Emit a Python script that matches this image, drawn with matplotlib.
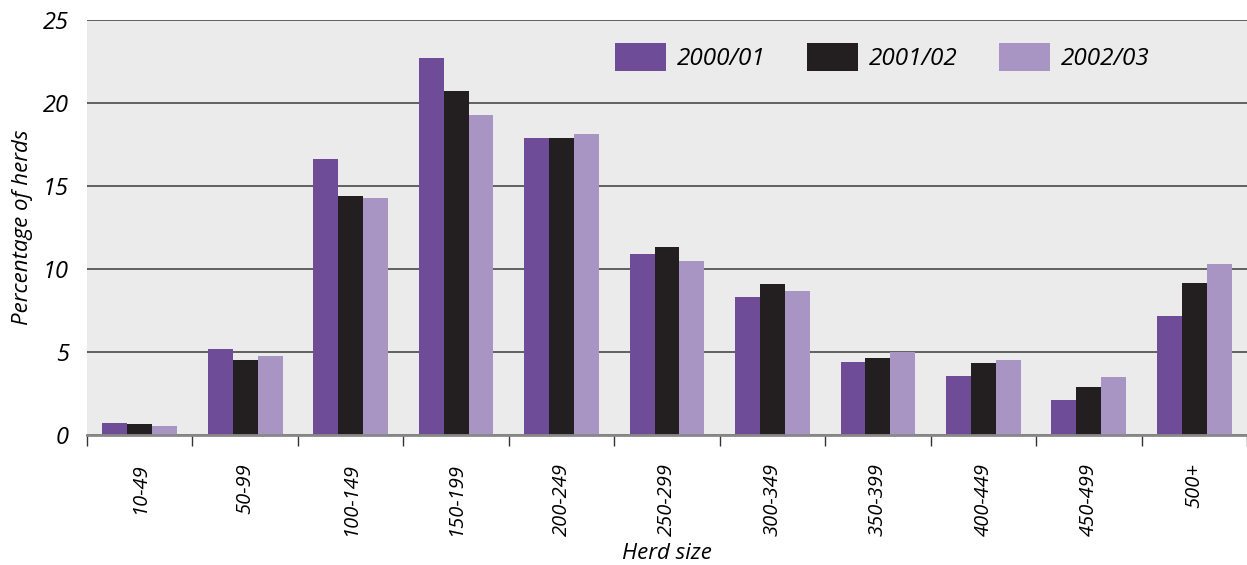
import matplotlib.pyplot as plt
import numpy as np

# Data
categories = ['10-49', '50-99', '100-149', '150-199', '200-249', '250-299',
              '300-349', '350-399', '400-449', '450-499', '500+']
y2000 = [0.72, 5.16, 16.65, 22.7, 17.9, 10.9, 8.3, 4.4, 3.55, 2.1, 7.17]
y2001 = [0.66, 4.5, 14.4, 20.7, 17.9, 11.33, 9.1, 4.64, 4.33, 2.88, 9.16]
y2002 = [0.54, 4.74, 14.3, 19.3, 18.13, 10.48, 8.67, 5.0, 4.5, 3.48, 10.3]
series = ['2000/01', '2001/02', '2002/03']
colors = ['#6f4c97', '#231f20', '#a995c4']

plt.rcParams['font.family'] = ['Open Sans', 'DejaVu Sans']

fig = plt.figure(figsize=(12.47, 5.65), dpi=100)
ax = fig.add_axes([87 / 1247, 1 - 435 / 565, 1 - 87 / 1247, 415 / 565])
ax.set_facecolor('#ebebeb')

x = np.arange(len(categories))
w = 0.236
for i, (vals, lab, c) in enumerate(zip([y2000, y2001, y2002], series, colors)):
    ax.bar(x + (i - 1) * w, vals, w, color=c, label=lab, zorder=3)

ax.set_ylim(0, 25)
ax.set_xlim(-0.5, 10.5 - 0.04)
ax.set_yticks([0, 5, 10, 15, 20, 25])
ax.yaxis.grid(True, color='#555555', linewidth=1.3, zorder=1)
ax.tick_params(axis='y', length=0, pad=13, labelsize=17)

ax.set_xticks(x)
ax.set_xticklabels(categories, rotation=90, fontsize=14.5, style='italic')
ax.set_xticks(np.arange(-0.5, 11, 1), minor=True)
ax.tick_params(axis='x', which='major', length=0, pad=20)
ax.tick_params(axis='x', which='minor', length=8, width=1, color='#333333', direction='out')
for t in ax.get_yticklabels():
    t.set_fontstyle('italic')

for s in ['top', 'right', 'left']:
    ax.spines[s].set_visible(False)
ax.spines['bottom'].set_color('#888888')
ax.spines['bottom'].set_linewidth(2)
ax.spines['bottom'].set_zorder(4)

ax.set_ylabel('Percentage of herds', fontsize=16, style='italic', labelpad=7)
ax.set_xlabel('Herd size', fontsize=16, style='italic', labelpad=5)

leg = ax.legend(loc='upper left', bbox_to_anchor=(615 / 1247, 1 - 43 / 565),
                bbox_transform=fig.transFigure, ncol=3, frameon=False,
                fontsize=17.5, handlelength=2.1, handleheight=1.4,
                handletextpad=0.45, columnspacing=1.7, borderpad=0, borderaxespad=0)
for t in leg.get_texts():
    t.set_fontstyle('italic')

fig.savefig('out.png', dpi=100)
